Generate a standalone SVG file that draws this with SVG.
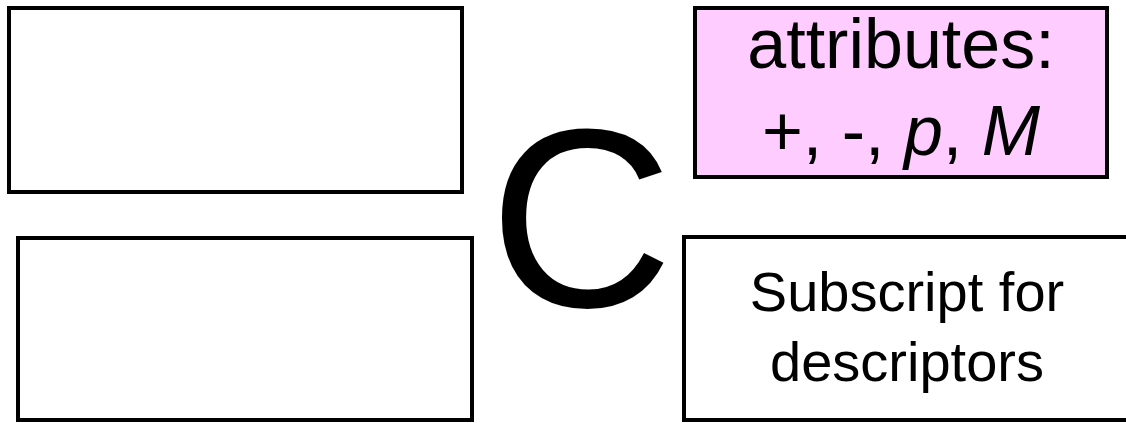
<svg xmlns="http://www.w3.org/2000/svg" width="1126" height="423" viewBox="0 0 1126 423">
<style>
.box{fill:#ffffff;stroke:#000000;stroke-width:4}
.pink{fill:#ffccff;stroke:#000000;stroke-width:4}
.t{font-family:"Liberation Sans",Arial,sans-serif;fill:#000000;text-anchor:middle}
</style>
<rect width="1126" height="423" fill="#ffffff"/>
<g id="box-top-left"><rect class="box" x="9" y="8" width="453" height="184"/></g>
<g id="box-bottom-left"><rect class="box" x="18" y="238" width="454" height="182"/></g>
<g id="attributes"><rect class="pink" x="695" y="8" width="412" height="169"/>
<text class="t" x="901" y="68" font-size="70">attributes:</text>
<text class="t" x="901" y="155" font-size="70">+, -, <tspan font-style="italic">p</tspan>, <tspan font-style="italic">M</tspan></text></g>
<g id="center-c"><text class="t" x="581" y="307" font-size="255">C</text></g>
<g id="subscript"><rect class="box" x="684" y="237" width="450" height="183"/>
<text class="t" x="907" y="311" font-size="56">Subscript for</text>
<text class="t" x="907" y="381" font-size="56">descriptors</text></g>
<g id="connectors"></g>
</svg>
